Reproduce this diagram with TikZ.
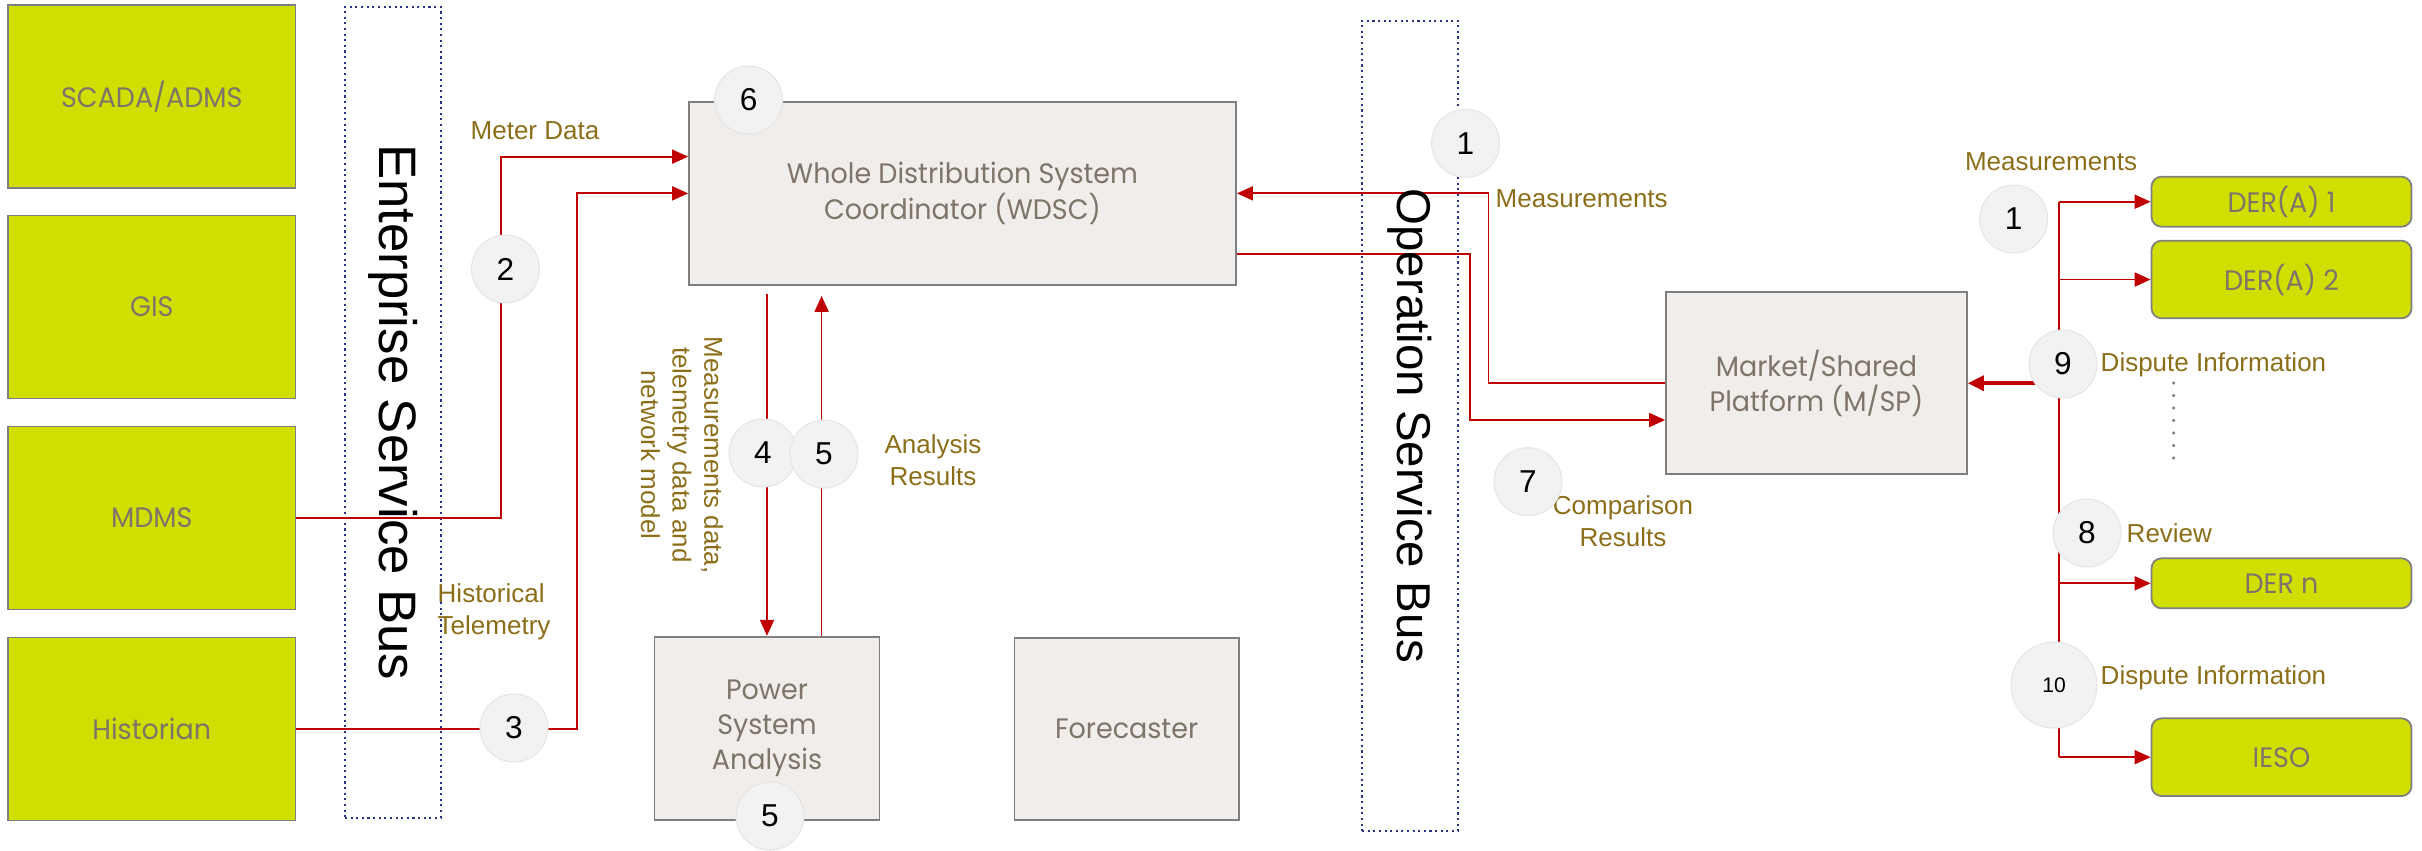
\documentclass[tikz,border=0pt]{standalone}
\usepackage{fontspec}
\setmainfont{Liberation Sans}
\newfontfamily\boxfont{Poppins}[FakeStretch=0.96]
\usetikzlibrary{arrows.meta}

\definecolor{lime}{RGB}{208,222,0}
\definecolor{panel}{RGB}{240,237,234}
\definecolor{edge}{RGB}{127,127,127}
\definecolor{boxtext}{RGB}{126,116,106}
\definecolor{olive}{RGB}{140,110,25}
\definecolor{flow}{RGB}{192,0,0}
\definecolor{busline}{RGB}{40,50,130}
\definecolor{badge}{RGB}{242,242,242}

\tikzset{
	system/.style={draw=edge, line width=0.5pt, fill=lime, inner sep=0pt,
		text=boxtext, align=center, font=\boxfont\fontsize{8}{10}\selectfont},
	der/.style={system, rounded corners=1mm, minimum width=26mm},
	block/.style={system, fill=panel},
	bus/.style={draw=busline, densely dotted, line width=0.6pt, inner sep=0pt},
	bustext/.style={rotate=-90, inner sep=0pt},
	tag/.style={text=olive, inner sep=0pt, align=center,
		font=\fontsize{7.4}{9}\selectfont},
	num/.style={circle, fill=badge, draw=black!10, line width=0.3pt,
		minimum size=6.8mm, inner sep=0pt, font=\fontsize{9}{10}\selectfont},
	flowline/.style={draw=flow, line width=0.5pt},
	arr/.style={flowline, -{Triangle[length=1.6mm, width=1.4mm]}},
}

\begin{document}
\begin{tikzpicture}[x=0.1mm, y=-0.1mm]
	\useasboundingbox (0,0) rectangle (2422,850);

	% service buses
	\node[bus, minimum width=9.56mm, minimum height=81.1mm] (esb) at (392.8,412.2) {};
	\node[bus, minimum width=9.6mm, minimum height=81.03mm] (osb) at (1410,425.9) {};

	% enterprise systems
	\node[system, minimum width=28.75mm, minimum height=18.3mm] (scada) at (151.75,96.5) {SCADA/ADMS};
	\node[system, minimum width=28.75mm, minimum height=18.3mm] (gis) at (151.75,307) {GIS};
	\node[system, minimum width=28.75mm, minimum height=18.3mm] (mdms) at (151.75,518) {MDMS};
	\node[system, minimum width=28.75mm, minimum height=18.3mm] (historian) at (151.75,729) {Historian};

	% coordinator and its tools
	\node[block, minimum width=54.7mm, minimum height=18.33mm] (wdsc) at (962.5,193.35)
		{Whole Distribution System\\Coordinator (WDSC)};
	\node[block, minimum width=22.5mm, minimum height=18.33mm] (psa) at (767,728.35)
		{Power\\System\\Analysis};
	\node[block, minimum width=22.44mm, minimum height=18.23mm] (forecaster) at (1126.6,729) {Forecaster};
	\node[block, minimum width=30.1mm, minimum height=18.17mm] (msp) at (1816.5,383.2)
		{Market/Shared\\Platform (M/SP)};

	% participants
	\node[der, minimum height=5mm] (dera1) at (2281.5,201.7) {DER(A) 1};
	\node[der, minimum height=7.76mm] (dera2) at (2281.5,279.5) {DER(A) 2};
	\node[der, minimum height=5mm] (dern) at (2281.5,583.3) {DER n};
	\node[der, minimum height=7.77mm] (ieso) at (2281.5,757.2) {IESO};

	% data flows
	\coordinate (meterin) at ([yshift=3.67mm]wdsc.west);
	\draw[arr] (mdms.east) -| ([xshift=-18.7mm]meterin) -- (meterin);
	\draw[arr] (historian.east) -| ([xshift=-11.1mm]wdsc.west) -- (wdsc.west);
	\draw[arr] (msp.west) -| ([xshift=25.15mm]wdsc.east) -- (wdsc.east);
	\coordinate (report) at ([yshift=-6.07mm]wdsc.east);
	\coordinate (reportin) at ([yshift=-3.68mm]msp.west);
	\draw[arr] (report) -| ([xshift=-19.52mm]reportin) -- (reportin);
	\draw[arr, shorten <=0.77mm] (psa.north |- wdsc.south) -- (psa.north);
	\coordinate (resultsup) at ([xshift=5.46mm]psa.north);
	\draw[arr, shorten >=1mm] (resultsup) -- (resultsup |- wdsc.south);

	\coordinate (spine) at ([xshift=-9.19mm]dera1.west);
	\draw[flowline] (spine) -- (spine |- ieso.west);
	\foreach \der in {dera1,dera2,dern,ieso}
		\draw[arr] (spine |- \der.west) -- (\der.west);
	\draw[flowline, line width=1pt, -{Triangle[length=1.6mm, width=1.5mm]}]
		(spine |- msp.east) -- (msp.east);
	\coordinate (more) at (2173.7,383);
	\draw[edge, line width=0.35mm, line cap=round, dash pattern=on 0pt off 1.25mm]
		(more) -- ++(0,84);

	% bus names
	\node[bustext, font=\fontsize{15}{18}\selectfont] (esbname) at (esb) {Enterprise Service Bus};
	\node[bustext, font=\fontsize{13.5}{16}\selectfont] (osbname) at (osb) {Operation Service Bus};

	% flow labels
	\node[tag] (meterlbl) at (535,131) {Meter Data};
	\node[tag, anchor=west, align=left] (histlbl) at (437,611.5) {Historical\\Telemetry};
	\node[tag, rotate=-90] (inputlbl) at (682,455) {Measurements data,\\telemetry data and\\network model};
	\node[tag] (analysislbl) at (933,460.5) {Analysis\\Results};
	\node[tag, anchor=west] (measlbl) at (1495,198.3) {Measurements};
	\node[tag] (comparelbl) at (1623,521) {Comparison\\Results};
	\node[tag] (dermeaslbl) at (2051,161.7) {Measurements};
	\node[tag, anchor=west] (disputelbl) at (2100,365) {Dispute Information};
	\node[tag, anchor=west] (reviewlbl) at (2126,533.3) {Review};
	\node[tag, anchor=west] (iesolbl) at (2100,677.7) {Dispute Information};

	% step numbers
	\node[num] (n6) at (748.6,100) {6};
	\node[num] (n2) at (505.5,269) {2};
	\node[num] (n3) at (514,728) {3};
	\node[num] (n1) at (1465.5,143.3) {1};
	\node[num] (n4) at (763,453) {4};
	\node[num] (n5) at (824,454) {5};
	\node[num] (n5b) at (770,816) {5};
	\node[num] (n7) at (1528,481.7) {7};
	\node[num] (n1b) at (2013.6,219) {1};
	\node[num] (n9) at (2063,364) {9};
	\node[num] (n8) at (2087,533) {8};
	\node[num, minimum size=8.6mm, font=\fontsize{6}{7}\selectfont] (n10) at (2054,685) {10};
\end{tikzpicture}
\end{document}
